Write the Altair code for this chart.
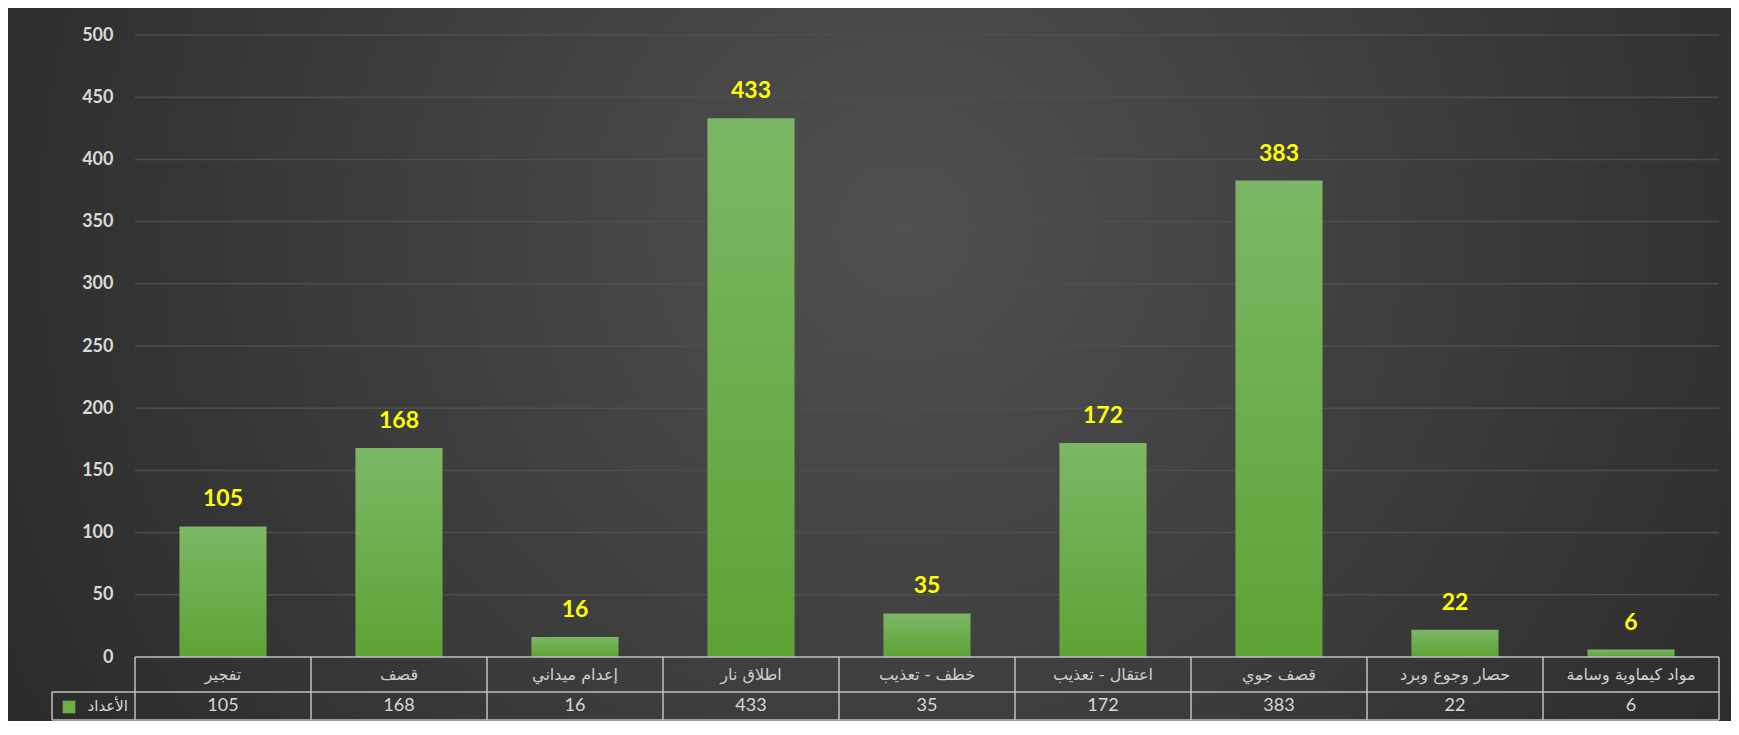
import altair as alt
import pandas as pd

categories = ["تفجير", "قصف", "إعدام ميداني", "اطلاق نار", "خطف - تعذيب",
              "اعتقال - تعذيب", "قصف جوي", "حصار وجوع وبرد", "مواد كيماوية وسامة"]
values = [105, 168, 16, 433, 35, 172, 383, 22, 6]
y_ticks = [0, 50, 100, 150, 200, 250, 300, 350, 400, 450, 500]
grid_ticks = [50, 100, 150, 200, 250, 300, 350, 400, 450, 500]
legend_label = ["الأعداد"]

W = 1584
H = 622
R1 = 35   # first table row bottom (relative to H)
R2 = 63   # table bottom (relative to H)
LEG_X = -83

df = pd.DataFrame({"cat": categories, "val": values})
grid_df = pd.DataFrame({"val": grid_ticks})
bounds_df = pd.DataFrame({"b": list(range(len(categories) + 1))})
one = pd.DataFrame({"a": [0]})
leg_df = pd.DataFrame({"label": legend_label})

yscale = alt.Scale(domain=[0, 500], nice=False, zero=True)
yaxis = alt.Axis(values=y_ticks, title=None, domain=False, ticks=False, grid=False,
                 labelColor="#d9d9d9", labelFontSize=18, labelFont="Lato",
                 labelFontWeight="bold", labelPadding=22, zindex=1)
yenc = alt.Y("val:Q", scale=yscale, axis=yaxis)
xband = alt.X("cat:N", sort=categories,
              scale=alt.Scale(paddingInner=0.505, paddingOuter=0.2525), axis=None)

bg = alt.Chart(one).mark_rect(
    fill={"gradient": "radial",
          "stops": [{"offset": 0, "color": "#505050"}, {"offset": 1, "color": "#252525"}],
          "x1": 0.52, "y1": 0.42, "r1": 0, "x2": 0.52, "y2": 0.42, "r2": 0.68}
).encode(x=alt.value(-127), x2=alt.value(W + 12), y=alt.value(-27), y2=alt.value(H + 70))

grid = alt.Chart(grid_df).mark_rule(color="#4e4e4e", strokeWidth=1.5).encode(
    y=yenc, x=alt.value(0), x2=alt.value(W))

bars = alt.Chart(df).mark_bar(
    fill={"gradient": "linear",
          "stops": [{"offset": 0, "color": "#7cb765"}, {"offset": 1, "color": "#5fa235"}],
          "x1": 0, "y1": 0, "x2": 0, "y2": 1}
).encode(x=xband, y=yenc)

labels = alt.Chart(df).mark_text(
    color="#ffff00", fontSize=23, fontWeight="bold", font="Lato",
    baseline="alphabetic", dy=-20
).encode(x=xband, y=yenc, text="val:Q")

line_color = "#c0c0c0"
vlines = alt.Chart(bounds_df).mark_rule(color=line_color, strokeWidth=1.5).encode(
    x=alt.X("b:Q", scale=alt.Scale(domain=[0, len(categories)], nice=False, zero=False), axis=None),
    y=alt.value(H), y2=alt.value(H + R2))

hline_top = alt.Chart(one).mark_rule(color=line_color, strokeWidth=1.5).encode(
    x=alt.value(0), x2=alt.value(W), y=alt.value(H))
hline_mid = alt.Chart(one).mark_rule(color=line_color, strokeWidth=1.5).encode(
    x=alt.value(LEG_X), x2=alt.value(W), y=alt.value(H + R1))
hline_bot = alt.Chart(one).mark_rule(color=line_color, strokeWidth=1.5).encode(
    x=alt.value(LEG_X), x2=alt.value(W), y=alt.value(H + R2))
vline_leg = alt.Chart(one).mark_rule(color=line_color, strokeWidth=1.5).encode(
    x=alt.value(LEG_X), y=alt.value(H + R1), y2=alt.value(H + R2))

cat_text = alt.Chart(df).mark_text(
    color="#cfcfcf", fontSize=16, font="DejaVu Sans", baseline="middle"
).encode(x=xband, y=alt.value(H + R1 / 2), text="cat:N")

val_text = alt.Chart(df).mark_text(
    color="#d9d9d9", fontSize=18, font="Lato", baseline="middle"
).encode(x=xband, y=alt.value(H + (R1 + R2) / 2), text="val:Q")

leg_swatch = alt.Chart(one).mark_point(
    shape="square", filled=True, color="#6cb043", size=160, opacity=1
).encode(x=alt.value(-66), y=alt.value(H + (R1 + R2) / 2 + 1))

leg_text = alt.Chart(leg_df).mark_text(
    color="#d9d9d9", fontSize=15, font="DejaVu Sans", align="right", baseline="middle"
).encode(x=alt.value(-7), y=alt.value(H + (R1 + R2) / 2), text="label:N")

chart = alt.layer(
    bg, grid, bars, labels, vlines, hline_top, hline_mid, hline_bot,
    vline_leg, cat_text, val_text, leg_swatch, leg_text
).resolve_scale(x="independent").properties(
    width=W, height=H,
    autosize=alt.AutoSizeParams(type="none"),
    padding={"left": 127, "top": 27, "right": 12, "bottom": 64},
).configure(background="#ffffff").configure_view(stroke=None)

chart.save("out.html", embed_options={"renderer": "svg", "actions": False})
